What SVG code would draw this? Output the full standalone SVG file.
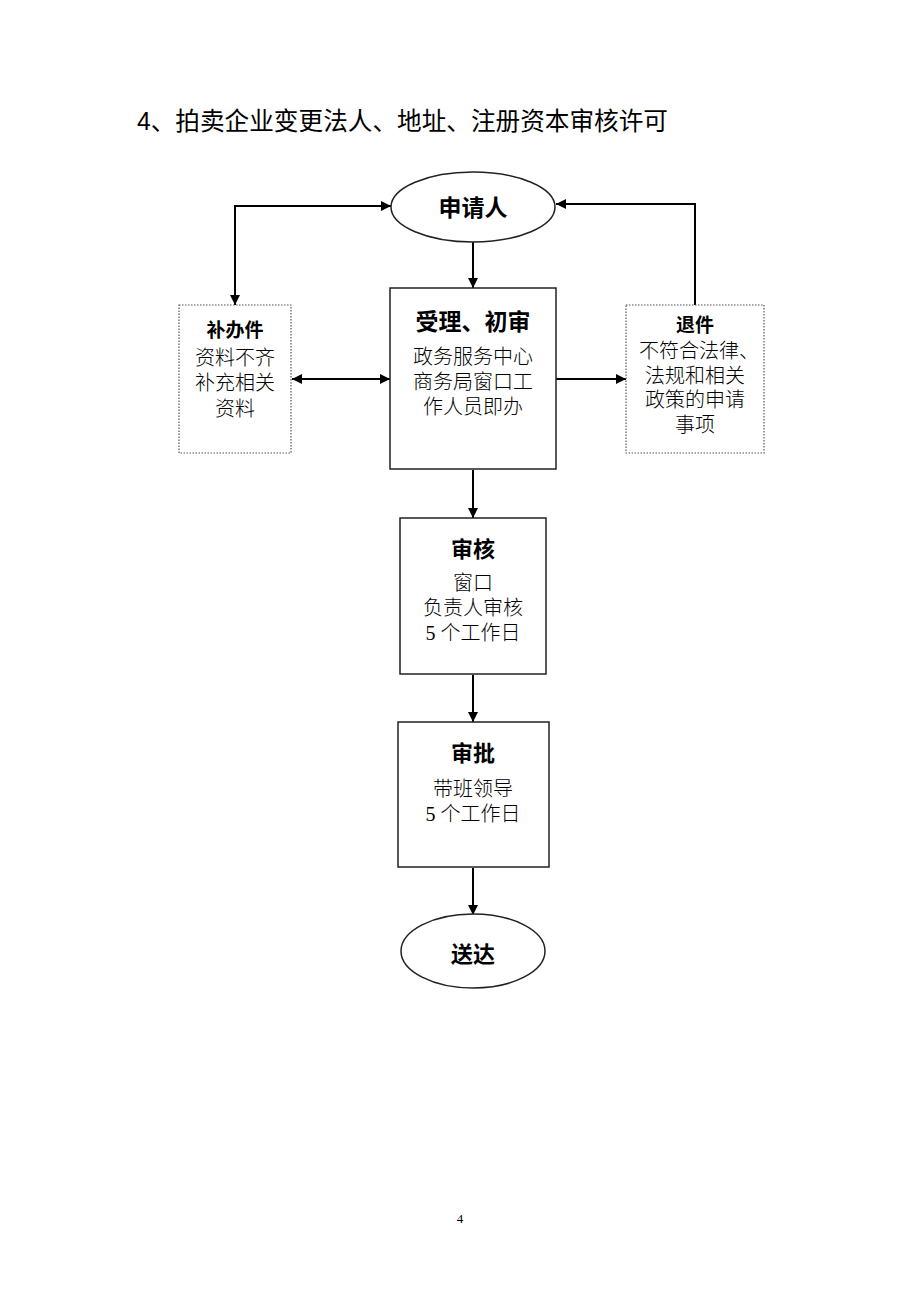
<svg xmlns="http://www.w3.org/2000/svg" width="920" height="1302" viewBox="0 0 920 1302">
<defs>
<marker id="ah" viewBox="0 0 10 10" refX="10" refY="5" markerWidth="10" markerHeight="10" markerUnits="userSpaceOnUse" orient="auto-start-reverse">
<path d="M0,0 L10,5 L0,10 z" fill="#000"/>
</marker>
<style>
.bg{fill:#fff}
.solid{fill:#fff;stroke:#222;stroke-width:1.5}
.dotted{fill:#fff;stroke:#555;stroke-width:1.2;stroke-dasharray:1.5 1.5}
.conn{fill:none;stroke:#000;stroke-width:2}
.t{font-family:"Liberation Serif","Noto Sans CJK SC",serif;fill:#000;text-anchor:middle}
.h{font-weight:bold}
.b{font-size:20px;font-weight:300}
.title{font-family:"Liberation Sans","Noto Sans CJK SC",sans-serif;font-size:25px;fill:#000}
.pg{font-family:"Liberation Serif",serif;font-size:13px;fill:#000;text-anchor:middle}
</style>
</defs>
<rect class="bg" x="0" y="0" width="920" height="1302"/>
<text class="title" x="137" y="130" textLength="531" lengthAdjust="spacingAndGlyphs">4、拍卖企业变更法人、地址、注册资本审核许可</text>

<g id="connectors">
<line class="conn" x1="473" y1="242" x2="473" y2="288" marker-end="url(#ah)"/>
<polyline class="conn" points="235,305 235,206 391,206" marker-start="url(#ah)" marker-end="url(#ah)"/>
<polyline class="conn" points="695,305 695,204 556,204" marker-end="url(#ah)"/>
<line class="conn" x1="292" y1="379" x2="390" y2="379" marker-start="url(#ah)" marker-end="url(#ah)"/>
<line class="conn" x1="556" y1="379" x2="626" y2="379" marker-end="url(#ah)"/>
<line class="conn" x1="473" y1="470" x2="473" y2="518" marker-end="url(#ah)"/>
<line class="conn" x1="473" y1="675" x2="473" y2="722" marker-end="url(#ah)"/>
<line class="conn" x1="473" y1="868" x2="473" y2="915" marker-end="url(#ah)"/>
</g>

<g id="applicant">
<ellipse class="solid" cx="473" cy="207" rx="82" ry="35"/>
<text class="t h" x="473" y="216" font-size="23">申请人</text>
</g>

<g id="accept">
<rect class="solid" x="390" y="288" width="166" height="181"/>
<text class="t h" x="473" y="330" font-size="23">受理、初审</text>
<text class="t b"><tspan x="473" y="364">政务服务中心</tspan><tspan x="473" y="389">商务局窗口工</tspan><tspan x="473" y="414">作人员即办</tspan></text>
</g>

<g id="supplement">
<rect class="dotted" x="179" y="305" width="112" height="148"/>
<text class="t h" x="235" y="337" font-size="19">补办件</text>
<text class="t b"><tspan x="235" y="365">资料不齐</tspan><tspan x="235" y="390">补充相关</tspan><tspan x="235" y="416">资料</tspan></text>
</g>

<g id="reject">
<rect class="dotted" x="626" y="305" width="138" height="148"/>
<text class="t h" x="695" y="332" font-size="19">退件</text>
<text class="t b"><tspan x="699" y="358">不符合法律、</tspan><tspan x="695" y="383">法规和相关</tspan><tspan x="695" y="407">政策的申请</tspan><tspan x="695" y="432">事项</tspan></text>
</g>

<g id="review">
<rect class="solid" x="400" y="518" width="146" height="156"/>
<text class="t h" x="473" y="557" font-size="22">审核</text>
<text class="t b"><tspan x="473" y="590">窗口</tspan><tspan x="473" y="615">负责人审核</tspan><tspan x="473" y="640">5 个工作日</tspan></text>
</g>

<g id="approve">
<rect class="solid" x="398" y="722" width="151" height="145"/>
<text class="t h" x="473" y="761" font-size="22">审批</text>
<text class="t b"><tspan x="473" y="796">带班领导</tspan><tspan x="473" y="821">5 个工作日</tspan></text>
</g>

<g id="deliver">
<ellipse class="solid" cx="473" cy="951" rx="72" ry="37"/>
<text class="t h" x="473" y="962" font-size="22">送达</text>
</g>

<text class="pg" x="460" y="1223">4</text>
</svg>
